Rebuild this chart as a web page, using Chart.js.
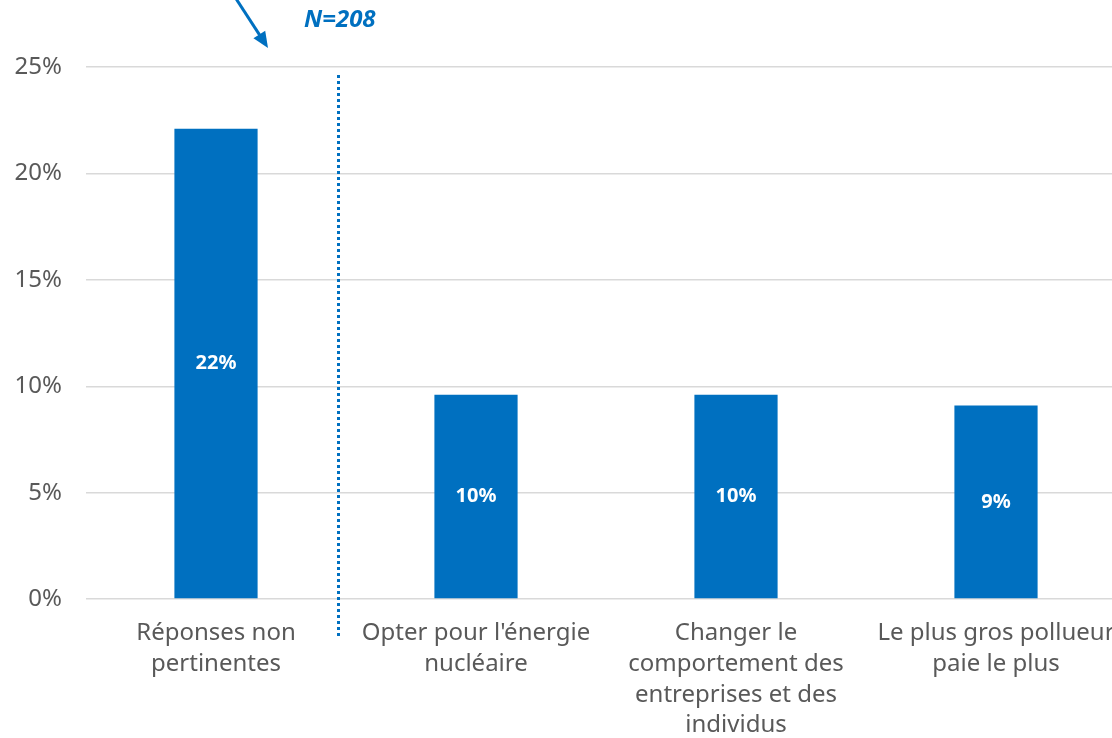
<!DOCTYPE html>
<html>
<head>
<meta charset="utf-8">
<script src="https://cdn.jsdelivr.net/npm/chart.js@4.4.1/dist/chart.umd.min.js"></script>
<style>
  html, body { margin: 0; padding: 0; background: #fff; overflow: hidden; }
  #wrap { position: relative; width: 1130px; height: 752px; }
</style>
</head>
<body>
<div id="wrap"><canvas id="bars"></canvas></div>
<script>
// categories (multi-line tick labels)
var categories = [
  ["Réponses non", "pertinentes"],
  ["Opter pour l'énergie", "nucléaire"],
  ["Changer le", "comportement des", "entreprises et des", "individus"],
  ["Le plus gros pollueur", "paie le plus"]
];
// share of respondents, in %
var shares = [22.1, 9.6, 9.6, 9.1];
var yTicks = [0, 5, 10, 15, 20, 25];
var sampleLabel = "N=208";

var BLUE = "#0070C0";
var FONT = "'Noto Sans', sans-serif";

// white value labels centred in each bar
var barValues = {
  id: "barValues",
  afterDatasetsDraw: function (chart) {
    var ctx = chart.ctx;
    var meta = chart.getDatasetMeta(0);
    ctx.save();
    ctx.fillStyle = "#fff";
    ctx.font = "bold 20px " + FONT;
    ctx.textAlign = "center";
    ctx.textBaseline = "middle";
    meta.data.forEach(function (bar, i) {
      var y = (bar.y + bar.base) / 2;
      ctx.fillText(Math.round(shares[i]) + "%", bar.x, y);
    });
    ctx.restore();
  }
};

// dotted separator, arrow and sample size
var notes = {
  id: "notes",
  afterDraw: function (chart) {
    var ctx = chart.ctx;
    var area = chart.chartArea;
    var xs = chart.scales.x;
    var step = xs.getPixelForValue(1) - xs.getPixelForValue(0);
    var sepX = Math.round(xs.getPixelForValue(0) + step * 0.47);

    ctx.save();
    ctx.fillStyle = BLUE;
    for (var y = Math.round(area.top) + 8; y < area.bottom + 34; y += 6) {
      ctx.fillRect(sepX - 1, y, 3, 3);
    }

    // arrow pointing down to the first gap
    var x1 = sepX - 101, y1 = 0, x2 = sepX - 70, y2 = area.top - 19;
    var ang = Math.atan2(y2 - y1, x2 - x1);
    ctx.strokeStyle = BLUE;
    ctx.lineWidth = 3;
    ctx.beginPath();
    ctx.moveTo(x1 - 4, y1 - 6);
    ctx.lineTo(x2 - 9 * Math.cos(ang), y2 - 9 * Math.sin(ang));
    ctx.stroke();
    ctx.beginPath();
    ctx.moveTo(x2, y2);
    ctx.lineTo(x2 - 16 * Math.cos(ang) + 7 * Math.sin(ang), y2 - 16 * Math.sin(ang) - 7 * Math.cos(ang));
    ctx.lineTo(x2 - 16 * Math.cos(ang) - 7 * Math.sin(ang), y2 - 16 * Math.sin(ang) + 7 * Math.cos(ang));
    ctx.closePath();
    ctx.fill();

    ctx.font = "italic bold 24px " + FONT;
    ctx.textAlign = "left";
    ctx.textBaseline = "middle";
    ctx.fillText(sampleLabel, sepX - 34, 20);
    ctx.restore();
  }
};

new Chart(document.getElementById("bars").getContext("2d"), {
  type: "bar",
  data: {
    labels: categories,
    datasets: [{
      data: shares,
      backgroundColor: BLUE,
      categoryPercentage: 1,
      barPercentage: 0.32
    }]
  },
  plugins: [barValues, notes],
  options: {
    responsive: true,
    maintainAspectRatio: false,
    animation: false,
    layout: { padding: { top: 67, right: 4, left: 14, bottom: 0 } },
    plugins: {
      legend: { display: false },
      tooltip: { enabled: false }
    },
    scales: {
      x: {
        grid: { display: false },
        border: { display: false },
        ticks: {
          autoSkip: false,
          maxRotation: 0,
          padding: 11,
          color: "#595959",
          font: { family: FONT, size: 24, lineHeight: 1.28 }
        }
      },
      y: {
        min: 0,
        max: 25,
        afterBuildTicks: function (axis) {
          axis.ticks = yTicks.map(function (v) { return { value: v }; });
        },
        afterFit: function (axis) { axis.width = 72; },
        grid: { color: "#d9d9d9", lineWidth: 1.5, drawTicks: false },
        border: { display: false },
        ticks: {
          padding: 24,
          color: "#595959",
          font: { family: FONT, size: 24 },
          callback: function (v) { return v + "%"; }
        }
      }
    }
  }
});
</script>
</body>
</html>
